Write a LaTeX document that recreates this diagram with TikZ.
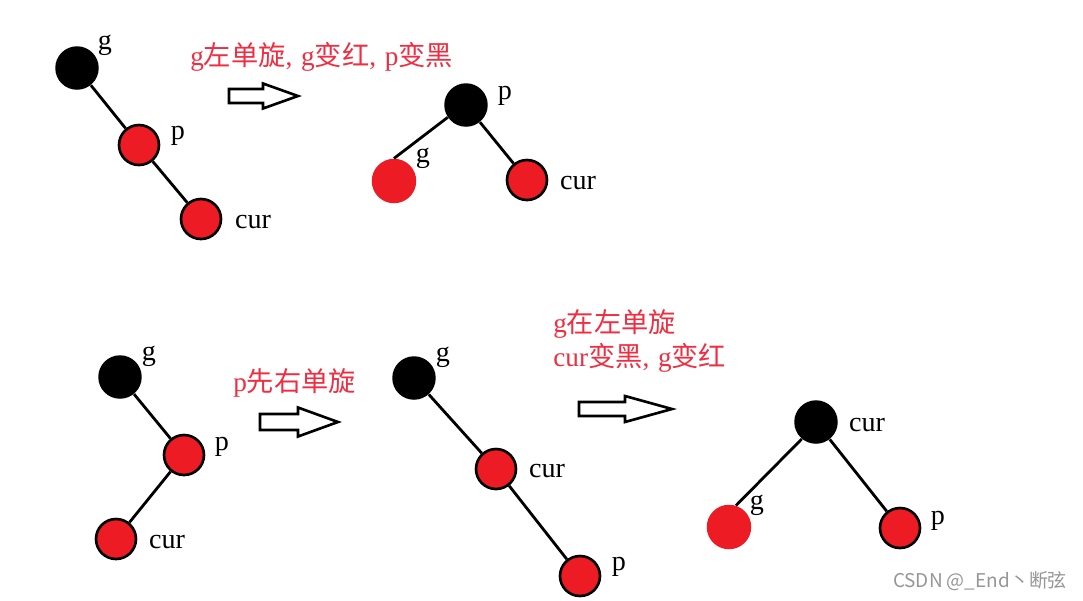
\documentclass[tikz,border=0pt]{standalone}
\usepackage{fontspec}
\setmainfont{Liberation Serif}
\newfontfamily\cjk{Noto Sans CJK SC}
\usetikzlibrary{positioning}

\definecolor{nodered}{RGB}{237,28,36}
\definecolor{notered}{RGB}{240,45,65}
\definecolor{markgray}{RGB}{150,150,150}

\newcommand\cm{,\hspace{0.32em}}

\tikzset{
  blk/.style={circle,fill=black,minimum size=0.87cm,inner sep=0pt},
  redo/.style={circle,fill=nodered,draw=black,line width=1.5pt,minimum size=0.8cm,inner sep=0pt},
  redf/.style={circle,fill=nodered,minimum size=0.89cm,inner sep=0pt},
  lab/.style={font=\fontsize{16}{19}\selectfont,inner sep=0pt},
  note/.style={text=notered,font=\fontsize{15.5}{19}\selectfont,anchor=west,inner sep=0pt},
  link/.style={line width=1.6pt},
  blockarrow/.style={draw=black,line width=1.5pt,fill=white,line join=miter}
}

\begin{document}
\begin{tikzpicture}[x=0.02cm,y=-0.02cm]
\useasboundingbox (0,0) rectangle (1083,600);

% before: g - p - cur on a right line
\node[blk]  (g1) at (77,68) {};
\node[redo] (p1) at (139,145) {};
\node[redo] (c1) at (201,219) {};
\draw[link] (g1) -- (p1) (p1) -- (c1);
\node[lab] (g1l) at (105,45) {g};
\node[lab] (p1l) at (178,136) {p};
\node[lab] (c1l) at (253,222) {cur};

\node[note] (n1) at (190,57) {g{\cjk 左单旋}\cm g{\cjk 变红}\cm p{\cjk 变黑}};

% after the left rotation
\node[blk]  (p2) at (466,105) {};
\node[redf] (g2) at (394,181) {};
\node[redo] (c2) at (527,180) {};
\draw[link] (p2.214) -- (g2.north) (p2) -- (c2);
\node[lab] (p2l) at (505,96) {p};
\node[lab] (g2l) at (423,158) {g};
\node[lab] (c2l) at (578,183) {cur};

% before: g - p - cur with a bend
\node[blk]  (g3) at (120,377) {};
\node[redo] (p3) at (184,455) {};
\node[redo] (c3) at (116,539) {};
\draw[link] (g3) -- (p3) (p3) -- (c3);
\node[lab] (g3l) at (149,356) {g};
\node[lab] (p3l) at (222,447) {p};
\node[lab] (c3l) at (167,542) {cur};

\node[note] (n2) at (233,383) {p{\cjk 先右单旋}};

% after rotating p to the right
\node[blk]  (g4) at (414,378) {};
\node[redo] (c4) at (496,469) {};
\node[redo] (p4) at (580,576) {};
\draw[link] (g4) -- (c4) (c4) -- (p4);
\node[lab] (g4l) at (443,357) {g};
\node[lab] (c4l) at (547,471) {cur};
\node[lab] (p4l) at (619,567) {p};

\node[note] (n3) at (553,324) {g{\cjk 在左单旋}};
\node[note] (n4) at (553,358) {cur{\cjk 变黑}\cm g{\cjk 变红}};

% after rotating g to the left
\node[blk]  (c5) at (816,422) {};
\node[redf] (g5) at (729,527) {};
\node[redo] (p5) at (900,528) {};
\draw[link] (c5.230) -- (g5.72) (c5) -- (p5);
\node[lab] (c5l) at (867,425) {cur};
\node[lab] (g5l) at (757,505) {g};
\node[lab] (p5l) at (938,521) {p};

% hollow arrows between the steps
\foreach \xa/\xb/\xc/\ym/\sh/\hh in {229/263/298/96/7/12.5, 260/298/338/422/8/14.5, 579/625/672/409/7/13}
  \draw[blockarrow] (\xa,\ym-\sh) -- (\xb,\ym-\sh) -- (\xb,\ym-\hh) -- (\xc,\ym)
    -- (\xb,\ym+\hh) -- (\xb,\ym+\sh) -- (\xa,\ym+\sh) -- cycle;

\node[text=markgray,font=\cjk\fontsize{10.8}{13}\selectfont] (mark) at (980,581) {CSDN @\_End丶断弦};
\end{tikzpicture}
\end{document}
